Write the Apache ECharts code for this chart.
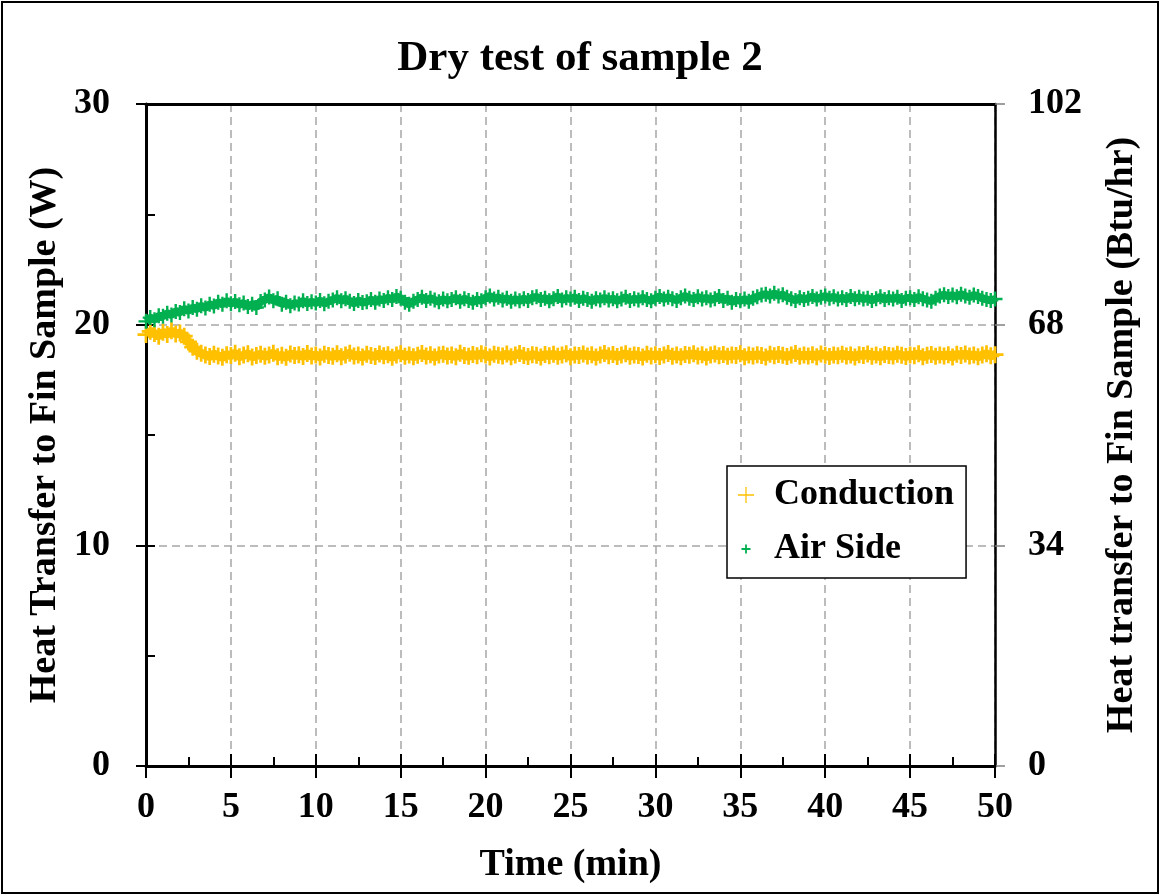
<!DOCTYPE html>
<html>
<head>
<meta charset="utf-8">
<script src="https://cdn.jsdelivr.net/npm/echarts@6/dist/echarts.min.js"></script>
<style>
html,body{margin:0;padding:0;background:#fff;}
#chart{width:1160px;height:895px;}
</style>
</head>
<body>
<div id="chart"></div>
<script>
// ---- data ----
const timeMin = [
0,0.25,0.5,0.75,1,1.25,1.5,1.75,2,2.25,2.5,2.75,3,3.25,3.5,3.75,4,4.25,4.5,4.75,
5,5.25,5.5,5.75,6,6.25,6.5,6.75,7,7.25,7.5,7.75,8,8.25,8.5,8.75,9,9.25,9.5,9.75,
10,10.25,10.5,10.75,11,11.25,11.5,11.75,12,12.25,12.5,12.75,13,13.25,13.5,13.75,14,14.25,14.5,14.75,
15,15.25,15.5,15.75,16,16.25,16.5,16.75,17,17.25,17.5,17.75,18,18.25,18.5,18.75,19,19.25,19.5,19.75,
20,20.25,20.5,20.75,21,21.25,21.5,21.75,22,22.25,22.5,22.75,23,23.25,23.5,23.75,24,24.25,24.5,24.75,
25,25.25,25.5,25.75,26,26.25,26.5,26.75,27,27.25,27.5,27.75,28,28.25,28.5,28.75,29,29.25,29.5,29.75,
30,30.25,30.5,30.75,31,31.25,31.5,31.75,32,32.25,32.5,32.75,33,33.25,33.5,33.75,34,34.25,34.5,34.75,
35,35.25,35.5,35.75,36,36.25,36.5,36.75,37,37.25,37.5,37.75,38,38.25,38.5,38.75,39,39.25,39.5,39.75,
40,40.25,40.5,40.75,41,41.25,41.5,41.75,42,42.25,42.5,42.75,43,43.25,43.5,43.75,44,44.25,44.5,44.75,
45,45.25,45.5,45.75,46,46.25,46.5,46.75,47,47.25,47.5,47.75,48,48.25,48.5,48.75,49,49.25,49.5,49.75,
50
];

const conductionW = [
19.55,19.70,19.60,19.48, 19.66,19.56,19.72,19.58, 19.62,19.48,19.22,18.98, 18.80,18.70,18.62,18.56, 18.66,18.58,18.52,18.64,
18.60,18.70,18.55,18.62, 18.68,18.54,18.60,18.66, 18.57,18.63,18.70,18.55, 18.61,18.52,18.67,18.60, 18.64,18.56,18.69,18.58,
18.62,18.54,18.66,18.60, 18.57,18.68,18.55,18.63, 18.70,18.58,18.62,18.53, 18.66,18.60,18.56,18.67, 18.59,18.64,18.52,18.62,
18.68,18.57,18.63,18.55, 18.61,18.69,18.58,18.64, 18.54,18.62,18.66,18.58, 18.63,18.55,18.70,18.60, 18.57,18.65,18.59,18.68,
18.62,18.54,18.66,18.61, 18.58,18.67,18.55,18.63, 18.69,18.60,18.56,18.64, 18.61,18.53,18.65,18.59, 18.66,18.57,18.62,18.68,
18.55,18.63,18.60,18.67, 18.58,18.64,18.54,18.62, 18.69,18.59,18.65,18.56, 18.62,18.68,18.57,18.63, 18.60,18.54,18.66,18.58,
18.64,18.56,18.62,18.69, 18.57,18.63,18.55,18.65, 18.61,18.68,18.58,18.64, 18.54,18.62,18.67,18.59, 18.65,18.57,18.63,18.60,
18.68,18.55,18.62,18.58, 18.64,18.60,18.53,18.66, 18.59,18.65,18.61,18.56, 18.63,18.69,18.57,18.62, 18.58,18.64,18.55,18.67,
18.61,18.56,18.63,18.59, 18.66,18.58,18.62,18.54, 18.64,18.60,18.67,18.57, 18.62,18.55,18.65,18.60, 18.58,18.66,18.61,18.56,
18.63,18.59,18.68,18.55, 18.61,18.65,18.57,18.62, 18.58,18.64,18.54,18.66, 18.60,18.67,18.58,18.63, 18.55,18.62,18.68,18.59,
18.64
];

const airSideW = [
20.15,20.32,20.22,20.40, 20.38,20.52,20.44,20.60, 20.55,20.72,20.62,20.78, 20.70,20.86,20.76,20.92, 20.85,21.02,20.92,21.08,
20.95,21.05,20.90,20.98, 20.82,20.92,20.78,21.05, 21.12,21.25,21.08,21.18, 20.92,21.02,20.86,20.98, 20.94,21.08,20.96,21.04,
20.98,21.10,20.95,21.06, 21.12,21.22,21.08,21.18, 21.06,20.96,21.10,21.00, 21.04,21.14,21.02,21.16, 21.10,21.22,21.14,21.28,
21.20,21.02,20.92,21.06, 21.14,21.24,21.10,21.20, 21.12,21.04,21.16,21.08, 21.14,21.22,21.06,21.18, 21.10,21.02,21.14,21.08,
21.22,21.30,21.16,21.24, 21.12,21.20,21.06,21.16, 21.08,21.18,21.10,21.22, 21.26,21.14,21.20,21.08, 21.18,21.28,21.12,21.22,
21.16,21.24,21.10,21.20, 21.14,21.06,21.18,21.12, 21.22,21.12,21.18,21.08, 21.16,21.24,21.10,21.18, 21.12,21.22,21.14,21.08,
21.20,21.28,21.16,21.24, 21.18,21.10,21.22,21.30, 21.20,21.14,21.26,21.16, 21.22,21.12,21.18,21.28, 21.10,21.20,21.02,21.14,
21.08,21.16,21.06,21.20, 21.26,21.34,21.38,21.30, 21.42,21.30,21.36,21.24, 21.18,21.10,21.22,21.14, 21.20,21.28,21.16,21.24,
21.30,21.20,21.26,21.16, 21.22,21.14,21.28,21.18, 21.24,21.16,21.20,21.10, 21.18,21.26,21.14,21.22, 21.16,21.24,21.10,21.20,
21.22,21.14,21.26,21.18, 21.12,21.06,21.20,21.30, 21.36,21.28,21.34,21.26, 21.38,21.30,21.24,21.34, 21.28,21.20,21.14,21.10,
21.16
];

const seriesNames = ['Conduction', 'Air Side'];
const titleText = 'Dry test of sample 2';
const xAxisName = 'Time (min)';
const leftAxisName = 'Heat Transfer to Fin Sample (W)';
const rightAxisName = 'Heat transfer to Fin Sample (Btu/hr)';

// ---- styling ----
const FONT = '"Liberation Serif", "Times New Roman", serif';
const ORANGE = '#FFC000';
const GREEN = '#00B050';
const PLUS = 'path://M4.2,0h1.6v4.2h4.2v1.6h-4.2v4.2h-1.6v-4.2h-4.2v-1.6h4.2z';
const PLUS_SMALL_ICON = 'path://M0,0L0.01,0L0,0.01ZM20,20L19.99,20L20,19.99ZM9,5h2v4h4v2h-4v4h-2v-4h-4v-2h4z';
const PLUS_BIG_ICON = 'path://M0,0L0.01,0L0,0.01ZM20,20L19.99,20L20,19.99ZM9.3,1h1.4v8.3h8.3v1.4h-8.3v8.3h-1.4v-8.3h-8.3v-1.4h8.3z';

const pairs = (vals) => timeMin.map((t, i) => [t, vals[i]]);

const labelStyle = { color: '#000', fontFamily: FONT, fontWeight: 'bold', fontSize: 36 };
const nameStyle = { color: '#000', fontFamily: FONT, fontWeight: 'bold', fontSize: 38 };
const dashed = { show: true, lineStyle: { color: '#A6A6A6', width: 1.5, type: [8, 5] } };

const chart = echarts.init(document.getElementById('chart'), null, { renderer: 'canvas' });

chart.setOption({
  backgroundColor: '#fff',
  animation: false,
  title: {
    text: titleText,
    left: 'center',
    top: 32,
    textStyle: { color: '#000', fontFamily: FONT, fontWeight: 'bold', fontSize: 43 }
  },
  graphic: [{
    type: 'rect',
    shape: { x: 2, y: 2, width: 1156, height: 891 },
    style: { fill: 'none', stroke: '#000', lineWidth: 2 },
    silent: true,
    z: 100
  }],
  grid: { left: 146, right: 165, top: 104, bottom: 129, containLabel: false },
  legend: {
    orient: 'vertical',
    left: 727,
    top: 466,
    padding: [11, 12, 11, 10],
    itemGap: 18,
    itemWidth: 18,
    itemHeight: 18,
    backgroundColor: '#fff',
    borderColor: '#000',
    borderWidth: 1.5,
    textStyle: { color: '#000', fontFamily: FONT, fontWeight: 'bold', fontSize: 36, padding: [0, 0, 0, 14] },
    data: [
      { name: seriesNames[0], icon: PLUS_BIG_ICON },
      { name: seriesNames[1], icon: PLUS_SMALL_ICON }
    ]
  },
  xAxis: [
    {
      type: 'value', position: 'bottom', min: 0, max: 50, interval: 5,
      name: xAxisName, nameLocation: 'middle', nameGap: 80, nameTextStyle: nameStyle,
      axisLine: { show: true, onZero: false, lineStyle: { color: '#000', width: 3 } },
      axisTick: { show: true, inside: false, length: 12, lineStyle: { color: '#000', width: 2 } },
      axisLabel: Object.assign({ margin: 24 }, labelStyle),
      splitLine: dashed
    },
    {
      type: 'value', position: 'bottom', min: 0, max: 50, interval: 5,
      axisLine: { show: false, onZero: false },
      axisTick: { show: true, inside: true, length: 12, lineStyle: { color: '#000', width: 2 } },
      minorTick: { show: true, splitNumber: 2, length: 9, lineStyle: { color: '#000', width: 2 } },
      axisLabel: { show: false },
      splitLine: { show: false }
    },
    {
      type: 'value', position: 'top', min: 0, max: 50, interval: 5,
      axisLine: { show: true, onZero: false, lineStyle: { color: '#000', width: 3 } },
      axisTick: { show: false },
      axisLabel: { show: false },
      splitLine: { show: false }
    }
  ],
  yAxis: [
    {
      type: 'value', position: 'left', min: 0, max: 30, interval: 10,
      name: leftAxisName, nameLocation: 'middle', nameGap: 82, nameRotate: 90, nameTextStyle: nameStyle,
      nameMoveOverlap: false,
      axisLine: { show: true, onZero: false, lineStyle: { color: '#000', width: 3 } },
      axisTick: { show: true, inside: false, length: 10, lineStyle: { color: '#000', width: 2 } },
      axisLabel: Object.assign({ margin: 36 }, labelStyle),
      splitLine: dashed
    },
    {
      type: 'value', position: 'right', min: 0, max: 102, interval: 34,
      name: rightAxisName, nameLocation: 'middle', nameGap: 108, nameRotate: 90, nameTextStyle: nameStyle,
      axisLine: { show: true, onZero: false, lineStyle: { color: '#000', width: 2.5 } },
      axisTick: { show: true, inside: false, length: 10, lineStyle: { color: '#808080', width: 1.5 } },
      axisLabel: Object.assign({ margin: 33 }, labelStyle),
      splitLine: { show: false }
    },
    {
      type: 'value', position: 'left', min: 0, max: 30, interval: 10,
      axisLine: { show: false, onZero: false },
      axisTick: { show: true, inside: true, length: 9, lineStyle: { color: '#000', width: 2 } },
      minorTick: { show: true, splitNumber: 2, length: 9, lineStyle: { color: '#000', width: 2 } },
      axisLabel: { show: false },
      splitLine: { show: false }
    }
  ],
  series: [
    {
      name: seriesNames[0], type: 'line', xAxisIndex: 0, yAxisIndex: 0,
      symbol: PLUS, symbolSize: 17, showSymbol: true, showAllSymbol: true,
      lineStyle: { color: ORANGE, width: 9 },
      itemStyle: { color: ORANGE, opacity: 1 },
      data: pairs(conductionW), z: 3
    },
    {
      name: seriesNames[1], type: 'line', xAxisIndex: 0, yAxisIndex: 0,
      symbol: PLUS, symbolSize: 15, showSymbol: true, showAllSymbol: true,
      lineStyle: { color: GREEN, width: 8 },
      itemStyle: { color: GREEN, opacity: 1 },
      data: pairs(airSideW), z: 4
    }
  ]
});
</script>
</body>
</html>
